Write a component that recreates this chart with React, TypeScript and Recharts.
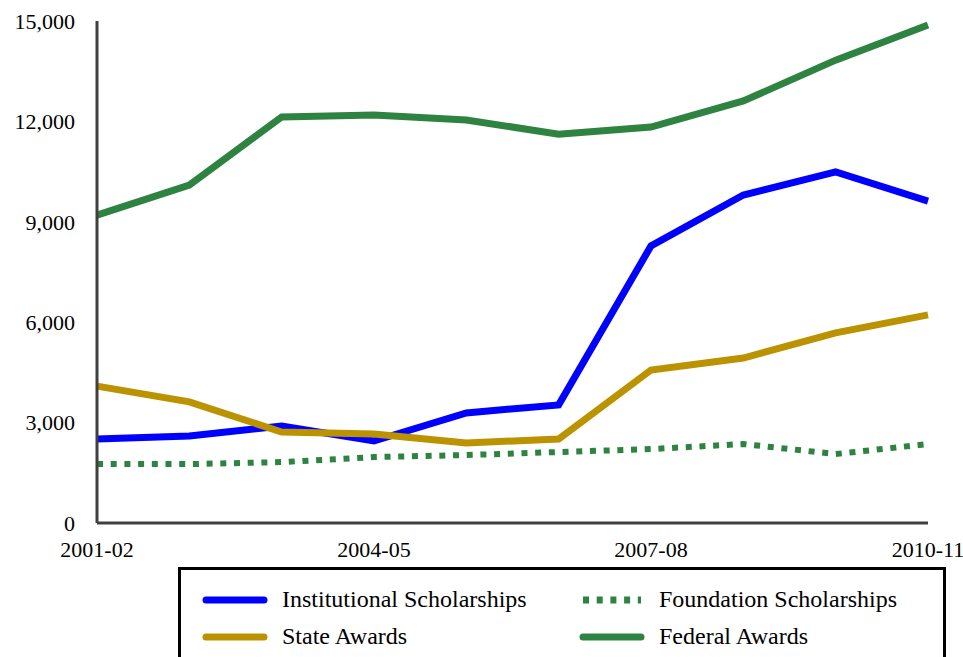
import { LineChart, Line, XAxis, YAxis } from 'recharts';

const years = ['2001-02', '2002-03', '2003-04', '2004-05', '2005-06', '2006-07', '2007-08', '2008-09', '2009-10', '2010-11'];
const institutional = [2510, 2600, 2900, 2450, 3290, 3530, 8280, 9800, 10490, 9620];
const foundation = [1760, 1760, 1820, 1970, 2030, 2120, 2210, 2360, 2060, 2360];
const stateAwards = [4090, 3620, 2720, 2660, 2390, 2510, 4570, 4930, 5680, 6220];
const federal = [9200, 10100, 12130, 12190, 12040, 11620, 11830, 12610, 13830, 14880];

const xTicks = ['2001-02', '2004-05', '2007-08', '2010-11'];
const yTicks = [0, 3000, 6000, 9000, 12000, 15000];

const FONT = '"Liberation Serif", "DejaVu Serif", serif';
const AXIS = '#404040';

const series = [
  { key: 'institutional', name: 'Institutional Scholarships', color: '#0000FF', dash: undefined },
  { key: 'foundation', name: 'Foundation Scholarships', color: '#2F8340', dash: '6 7.7' },
  { key: 'stateAwards', name: 'State Awards', color: '#BB9300', dash: undefined },
  { key: 'federal', name: 'Federal Awards', color: '#2F8340', dash: undefined },
];

const data = years.map((year, i) => ({
  year,
  institutional: institutional[i],
  foundation: foundation[i],
  stateAwards: stateAwards[i],
  federal: federal[i],
}));

// legend sits below the plot, its bottom edge runs off the page like the original
function LegendBox() {
  const item = (s: (typeof series)[number]) => (
    <div key={s.key} style={{ display: 'flex', alignItems: 'center', height: 37 }}>
      <svg width={80} height={12}>
        <line
          x1={4}
          y1={6}
          x2={62}
          y2={6}
          stroke={s.color}
          strokeWidth={7}
          strokeLinecap={s.dash ? 'butt' : 'round'}
          strokeDasharray={s.dash}
        />
      </svg>
      <span style={{ fontFamily: 'Liberation Serif', fontSize: 24, color: '#000', whiteSpace: 'nowrap' }}>{s.name}</span>
    </div>
  );
  return (
    <div
      style={{
        position: 'absolute',
        left: 178,
        top: 567,
        border: '3px solid #000',
        width: 768,
        height: 100,
        boxSizing: 'border-box',
        padding: '11px 0 0 21px',
        display: 'grid',
        gridTemplateColumns: '377px 360px',
        gridAutoRows: '37px',
        background: '#fff',
      }}
    >
      {series.map(item)}
    </div>
  );
}

export default function App() {
  return (
    <div style={{ position: 'absolute', left: 0, top: 0, width: 963, height: 657, overflow: 'hidden', background: '#fff' }}>
      <LineChart width={963} height={657} data={data} margin={{ top: 21, right: 35, bottom: 94, left: 0 }}>
        <XAxis
          dataKey="year"
          ticks={xTicks}
          interval={0}
          tickLine={false}
          tickSize={0}
          tickMargin={18}
          height={40}
          stroke={AXIS}
          strokeWidth={3}
          tick={{ fill: '#000', fontFamily: FONT, fontSize: 22 }}
        />
        <YAxis
          domain={[0, 15000]}
          ticks={yTicks}
          interval={0}
          width={97}
          tickLine={false}
          tickSize={0}
          tickMargin={22}
          stroke={AXIS}
          strokeWidth={3}
          tickFormatter={(v: number) => v.toLocaleString('en-US')}
          tick={{ fill: '#000', fontFamily: FONT, fontSize: 22 }}
        />
        {series.map((s) => (
          <Line
            key={s.key}
            dataKey={s.key}
            name={s.name}
            stroke={s.color}
            strokeWidth={s.dash ? 6 : 7}
            strokeDasharray={s.dash}
            dot={false}
            activeDot={false}
            isAnimationActive={false}
          />
        ))}
      </LineChart>
      <LegendBox />
    </div>
  );
}
